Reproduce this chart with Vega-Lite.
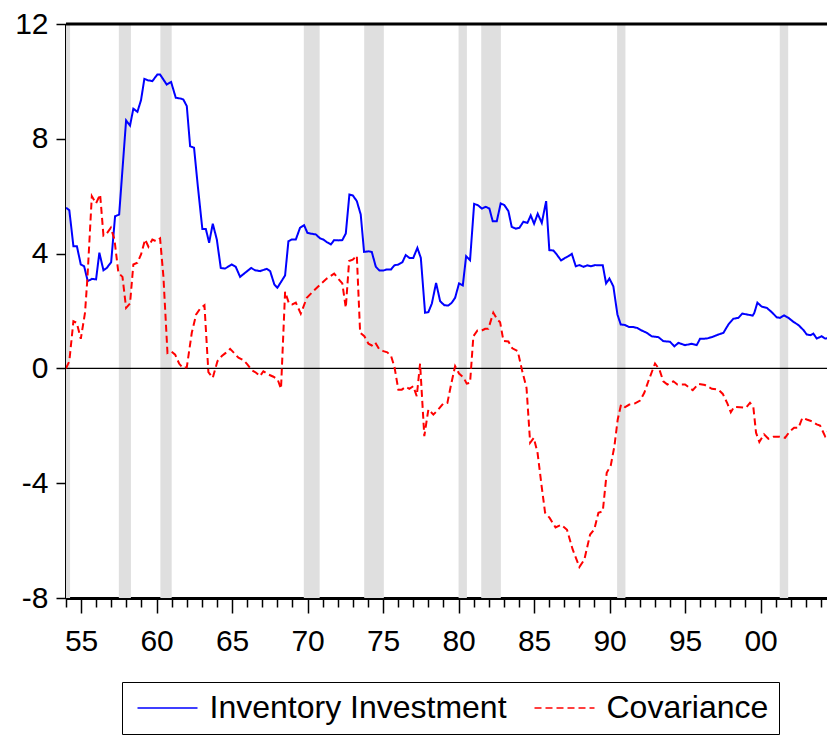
{
  "$schema": "https://vega.github.io/schema/vega-lite/v6.json",
  "width": 761,
  "height": 574,
  "autosize": {"type": "none"},
  "padding": {"left": 66, "top": 24, "right": 0, "bottom": 137},
  "background": "white",
  "config": {
    "view": {"stroke": null},
    "font": "Liberation Sans",
    "axis": {"title": null, "grid": false, "labelColor": "black", "domainColor": "black", "tickColor": "black", "labelFont": "Liberation Sans"}
  },
  "datasets": {
    "rec": [
      {"start": 1954.0, "end": 1954.27},
      {"start": 1957.5, "end": 1958.3},
      {"start": 1960.25, "end": 1961.0},
      {"start": 1969.75, "end": 1970.8},
      {"start": 1973.75, "end": 1975.05},
      {"start": 1980.0, "end": 1980.55},
      {"start": 1981.5, "end": 1982.8},
      {"start": 1990.5, "end": 1991.05},
      {"start": 2001.27, "end": 2001.83}
    ],
    "series": [
      {"s":"Inventory Investment","t":1954.0,"v":5.6},
      {"s":"Inventory Investment","t":1954.22,"v":5.51},
      {"s":"Inventory Investment","t":1954.49,"v":4.26},
      {"s":"Inventory Investment","t":1954.72,"v":4.26},
      {"s":"Inventory Investment","t":1954.98,"v":3.62},
      {"s":"Inventory Investment","t":1955.2,"v":3.56},
      {"s":"Inventory Investment","t":1955.44,"v":3.04},
      {"s":"Inventory Investment","t":1955.71,"v":3.12},
      {"s":"Inventory Investment","t":1955.99,"v":3.1},
      {"s":"Inventory Investment","t":1956.21,"v":4.03},
      {"s":"Inventory Investment","t":1956.48,"v":3.42},
      {"s":"Inventory Investment","t":1956.7,"v":3.5},
      {"s":"Inventory Investment","t":1956.99,"v":3.7},
      {"s":"Inventory Investment","t":1957.25,"v":5.3},
      {"s":"Inventory Investment","t":1957.52,"v":5.36},
      {"s":"Inventory Investment","t":1957.98,"v":8.64},
      {"s":"Inventory Investment","t":1958.24,"v":8.46},
      {"s":"Inventory Investment","t":1958.46,"v":9.05},
      {"s":"Inventory Investment","t":1958.73,"v":8.94},
      {"s":"Inventory Investment","t":1958.97,"v":9.35},
      {"s":"Inventory Investment","t":1959.19,"v":10.09},
      {"s":"Inventory Investment","t":1959.42,"v":10.04},
      {"s":"Inventory Investment","t":1959.72,"v":10.01},
      {"s":"Inventory Investment","t":1960.05,"v":10.24},
      {"s":"Inventory Investment","t":1960.23,"v":10.24},
      {"s":"Inventory Investment","t":1960.67,"v":9.89},
      {"s":"Inventory Investment","t":1960.96,"v":9.98},
      {"s":"Inventory Investment","t":1961.27,"v":9.43},
      {"s":"Inventory Investment","t":1961.6,"v":9.4},
      {"s":"Inventory Investment","t":1961.77,"v":9.37},
      {"s":"Inventory Investment","t":1962.0,"v":9.14},
      {"s":"Inventory Investment","t":1962.22,"v":7.74},
      {"s":"Inventory Investment","t":1962.48,"v":7.69},
      {"s":"Inventory Investment","t":1962.73,"v":6.35},
      {"s":"Inventory Investment","t":1963.03,"v":4.86},
      {"s":"Inventory Investment","t":1963.26,"v":4.86},
      {"s":"Inventory Investment","t":1963.48,"v":4.38},
      {"s":"Inventory Investment","t":1963.72,"v":5.04},
      {"s":"Inventory Investment","t":1963.99,"v":4.49},
      {"s":"Inventory Investment","t":1964.25,"v":3.5},
      {"s":"Inventory Investment","t":1964.54,"v":3.48},
      {"s":"Inventory Investment","t":1964.98,"v":3.62},
      {"s":"Inventory Investment","t":1965.24,"v":3.54},
      {"s":"Inventory Investment","t":1965.53,"v":3.19},
      {"s":"Inventory Investment","t":1965.86,"v":3.33},
      {"s":"Inventory Investment","t":1966.26,"v":3.5},
      {"s":"Inventory Investment","t":1966.52,"v":3.42},
      {"s":"Inventory Investment","t":1966.85,"v":3.39},
      {"s":"Inventory Investment","t":1967.3,"v":3.47},
      {"s":"Inventory Investment","t":1967.52,"v":3.39},
      {"s":"Inventory Investment","t":1967.8,"v":2.92},
      {"s":"Inventory Investment","t":1968.0,"v":2.81},
      {"s":"Inventory Investment","t":1968.51,"v":3.24},
      {"s":"Inventory Investment","t":1968.73,"v":4.43},
      {"s":"Inventory Investment","t":1968.95,"v":4.49},
      {"s":"Inventory Investment","t":1969.22,"v":4.49},
      {"s":"Inventory Investment","t":1969.5,"v":4.9},
      {"s":"Inventory Investment","t":1969.77,"v":4.99},
      {"s":"Inventory Investment","t":1969.99,"v":4.72},
      {"s":"Inventory Investment","t":1970.28,"v":4.69},
      {"s":"Inventory Investment","t":1970.54,"v":4.67},
      {"s":"Inventory Investment","t":1970.83,"v":4.53},
      {"s":"Inventory Investment","t":1971.05,"v":4.49},
      {"s":"Inventory Investment","t":1971.27,"v":4.4},
      {"s":"Inventory Investment","t":1971.54,"v":4.32},
      {"s":"Inventory Investment","t":1971.76,"v":4.47},
      {"s":"Inventory Investment","t":1972.04,"v":4.46},
      {"s":"Inventory Investment","t":1972.3,"v":4.47},
      {"s":"Inventory Investment","t":1972.53,"v":4.7},
      {"s":"Inventory Investment","t":1972.77,"v":6.06},
      {"s":"Inventory Investment","t":1972.99,"v":6.03},
      {"s":"Inventory Investment","t":1973.26,"v":5.83},
      {"s":"Inventory Investment","t":1973.52,"v":5.36},
      {"s":"Inventory Investment","t":1973.74,"v":4.06},
      {"s":"Inventory Investment","t":1974.03,"v":4.08},
      {"s":"Inventory Investment","t":1974.25,"v":4.06},
      {"s":"Inventory Investment","t":1974.52,"v":3.54},
      {"s":"Inventory Investment","t":1974.76,"v":3.41},
      {"s":"Inventory Investment","t":1975.02,"v":3.41},
      {"s":"Inventory Investment","t":1975.25,"v":3.45},
      {"s":"Inventory Investment","t":1975.53,"v":3.45},
      {"s":"Inventory Investment","t":1975.75,"v":3.59},
      {"s":"Inventory Investment","t":1976.01,"v":3.62},
      {"s":"Inventory Investment","t":1976.28,"v":3.7},
      {"s":"Inventory Investment","t":1976.5,"v":3.95},
      {"s":"Inventory Investment","t":1976.74,"v":3.85},
      {"s":"Inventory Investment","t":1977.0,"v":3.85},
      {"s":"Inventory Investment","t":1977.27,"v":4.2},
      {"s":"Inventory Investment","t":1977.5,"v":3.85},
      {"s":"Inventory Investment","t":1977.78,"v":1.94},
      {"s":"Inventory Investment","t":1978.0,"v":1.96},
      {"s":"Inventory Investment","t":1978.23,"v":2.26},
      {"s":"Inventory Investment","t":1978.51,"v":2.98},
      {"s":"Inventory Investment","t":1978.78,"v":2.34},
      {"s":"Inventory Investment","t":1979.06,"v":2.2},
      {"s":"Inventory Investment","t":1979.32,"v":2.19},
      {"s":"Inventory Investment","t":1979.55,"v":2.29},
      {"s":"Inventory Investment","t":1979.77,"v":2.46},
      {"s":"Inventory Investment","t":1980.03,"v":2.96},
      {"s":"Inventory Investment","t":1980.28,"v":2.89},
      {"s":"Inventory Investment","t":1980.5,"v":3.91},
      {"s":"Inventory Investment","t":1980.76,"v":3.77},
      {"s":"Inventory Investment","t":1981.03,"v":5.73},
      {"s":"Inventory Investment","t":1981.27,"v":5.69},
      {"s":"Inventory Investment","t":1981.54,"v":5.57},
      {"s":"Inventory Investment","t":1981.8,"v":5.63},
      {"s":"Inventory Investment","t":1982.04,"v":5.57},
      {"s":"Inventory Investment","t":1982.26,"v":5.13},
      {"s":"Inventory Investment","t":1982.53,"v":5.13},
      {"s":"Inventory Investment","t":1982.79,"v":5.75},
      {"s":"Inventory Investment","t":1983.03,"v":5.69},
      {"s":"Inventory Investment","t":1983.3,"v":5.48},
      {"s":"Inventory Investment","t":1983.52,"v":4.93},
      {"s":"Inventory Investment","t":1983.79,"v":4.87},
      {"s":"Inventory Investment","t":1984.03,"v":4.9},
      {"s":"Inventory Investment","t":1984.29,"v":5.11},
      {"s":"Inventory Investment","t":1984.56,"v":5.07},
      {"s":"Inventory Investment","t":1984.78,"v":5.33},
      {"s":"Inventory Investment","t":1985.0,"v":5.04},
      {"s":"Inventory Investment","t":1985.24,"v":5.39},
      {"s":"Inventory Investment","t":1985.51,"v":5.07},
      {"s":"Inventory Investment","t":1985.8,"v":5.83},
      {"s":"Inventory Investment","t":1986.01,"v":4.12},
      {"s":"Inventory Investment","t":1986.28,"v":4.11},
      {"s":"Inventory Investment","t":1986.5,"v":3.97},
      {"s":"Inventory Investment","t":1986.79,"v":3.76},
      {"s":"Inventory Investment","t":1987.05,"v":3.85},
      {"s":"Inventory Investment","t":1987.27,"v":3.91},
      {"s":"Inventory Investment","t":1987.5,"v":3.99},
      {"s":"Inventory Investment","t":1987.76,"v":3.56},
      {"s":"Inventory Investment","t":1988.0,"v":3.6},
      {"s":"Inventory Investment","t":1988.27,"v":3.54},
      {"s":"Inventory Investment","t":1988.53,"v":3.59},
      {"s":"Inventory Investment","t":1988.77,"v":3.56},
      {"s":"Inventory Investment","t":1989.04,"v":3.6},
      {"s":"Inventory Investment","t":1989.3,"v":3.59},
      {"s":"Inventory Investment","t":1989.55,"v":3.59},
      {"s":"Inventory Investment","t":1989.77,"v":2.96},
      {"s":"Inventory Investment","t":1989.99,"v":3.13},
      {"s":"Inventory Investment","t":1990.25,"v":2.86},
      {"s":"Inventory Investment","t":1990.52,"v":1.88},
      {"s":"Inventory Investment","t":1990.74,"v":1.53},
      {"s":"Inventory Investment","t":1991.03,"v":1.51},
      {"s":"Inventory Investment","t":1991.29,"v":1.44},
      {"s":"Inventory Investment","t":1991.58,"v":1.44},
      {"s":"Inventory Investment","t":1991.84,"v":1.41},
      {"s":"Inventory Investment","t":1992.13,"v":1.32},
      {"s":"Inventory Investment","t":1992.46,"v":1.24},
      {"s":"Inventory Investment","t":1992.79,"v":1.12},
      {"s":"Inventory Investment","t":1993.23,"v":1.09},
      {"s":"Inventory Investment","t":1993.56,"v":0.95},
      {"s":"Inventory Investment","t":1994.0,"v":0.93},
      {"s":"Inventory Investment","t":1994.29,"v":0.77},
      {"s":"Inventory Investment","t":1994.56,"v":0.89},
      {"s":"Inventory Investment","t":1995.0,"v":0.81},
      {"s":"Inventory Investment","t":1995.44,"v":0.86},
      {"s":"Inventory Investment","t":1995.77,"v":0.81},
      {"s":"Inventory Investment","t":1995.99,"v":1.03},
      {"s":"Inventory Investment","t":1996.44,"v":1.04},
      {"s":"Inventory Investment","t":1996.77,"v":1.09},
      {"s":"Inventory Investment","t":1997.21,"v":1.18},
      {"s":"Inventory Investment","t":1997.54,"v":1.24},
      {"s":"Inventory Investment","t":1997.87,"v":1.53},
      {"s":"Inventory Investment","t":1998.2,"v":1.73},
      {"s":"Inventory Investment","t":1998.53,"v":1.76},
      {"s":"Inventory Investment","t":1998.79,"v":1.91},
      {"s":"Inventory Investment","t":1999.09,"v":1.88},
      {"s":"Inventory Investment","t":1999.48,"v":1.84},
      {"s":"Inventory Investment","t":1999.59,"v":1.94},
      {"s":"Inventory Investment","t":1999.79,"v":2.29},
      {"s":"Inventory Investment","t":2000.08,"v":2.15},
      {"s":"Inventory Investment","t":2000.41,"v":2.11},
      {"s":"Inventory Investment","t":2000.74,"v":1.96},
      {"s":"Inventory Investment","t":2001.07,"v":1.78},
      {"s":"Inventory Investment","t":2001.29,"v":1.76},
      {"s":"Inventory Investment","t":2001.56,"v":1.85},
      {"s":"Inventory Investment","t":2001.85,"v":1.76},
      {"s":"Inventory Investment","t":2002.18,"v":1.62},
      {"s":"Inventory Investment","t":2002.51,"v":1.51},
      {"s":"Inventory Investment","t":2002.85,"v":1.33},
      {"s":"Inventory Investment","t":2003.06,"v":1.18},
      {"s":"Inventory Investment","t":2003.32,"v":1.16},
      {"s":"Inventory Investment","t":2003.5,"v":1.21},
      {"s":"Inventory Investment","t":2003.72,"v":1.04},
      {"s":"Inventory Investment","t":2004.05,"v":1.12},
      {"s":"Inventory Investment","t":2004.27,"v":1.04},
      {"s":"Inventory Investment","t":2004.5,"v":1.06},
      {"s":"Covariance","t":1954.0,"v":0.0},
      {"s":"Covariance","t":1954.22,"v":0.25},
      {"s":"Covariance","t":1954.49,"v":1.64},
      {"s":"Covariance","t":1954.71,"v":1.59},
      {"s":"Covariance","t":1954.98,"v":1.03},
      {"s":"Covariance","t":1955.26,"v":1.94},
      {"s":"Covariance","t":1955.42,"v":3.16},
      {"s":"Covariance","t":1955.71,"v":6.0},
      {"s":"Covariance","t":1955.99,"v":5.75},
      {"s":"Covariance","t":1956.26,"v":6.06},
      {"s":"Covariance","t":1956.48,"v":4.63},
      {"s":"Covariance","t":1956.7,"v":4.7},
      {"s":"Covariance","t":1956.97,"v":4.9},
      {"s":"Covariance","t":1957.21,"v":4.49},
      {"s":"Covariance","t":1957.47,"v":3.33},
      {"s":"Covariance","t":1957.74,"v":3.19},
      {"s":"Covariance","t":1957.98,"v":2.11},
      {"s":"Covariance","t":1958.24,"v":2.26},
      {"s":"Covariance","t":1958.46,"v":3.62},
      {"s":"Covariance","t":1958.73,"v":3.68},
      {"s":"Covariance","t":1958.97,"v":3.97},
      {"s":"Covariance","t":1959.24,"v":4.49},
      {"s":"Covariance","t":1959.46,"v":4.24},
      {"s":"Covariance","t":1959.72,"v":4.49},
      {"s":"Covariance","t":1959.97,"v":4.43},
      {"s":"Covariance","t":1960.23,"v":4.53},
      {"s":"Covariance","t":1960.45,"v":3.21},
      {"s":"Covariance","t":1960.72,"v":0.54},
      {"s":"Covariance","t":1960.96,"v":0.6},
      {"s":"Covariance","t":1961.23,"v":0.48},
      {"s":"Covariance","t":1961.49,"v":0.17},
      {"s":"Covariance","t":1961.73,"v":0.02},
      {"s":"Covariance","t":1962.0,"v":0.04},
      {"s":"Covariance","t":1962.33,"v":1.24},
      {"s":"Covariance","t":1962.62,"v":1.88},
      {"s":"Covariance","t":1962.88,"v":2.08},
      {"s":"Covariance","t":1963.17,"v":2.2},
      {"s":"Covariance","t":1963.43,"v":-0.13},
      {"s":"Covariance","t":1963.72,"v":-0.33},
      {"s":"Covariance","t":1964.03,"v":0.25},
      {"s":"Covariance","t":1964.32,"v":0.43},
      {"s":"Covariance","t":1964.58,"v":0.54},
      {"s":"Covariance","t":1964.87,"v":0.68},
      {"s":"Covariance","t":1965.13,"v":0.54},
      {"s":"Covariance","t":1965.42,"v":0.37},
      {"s":"Covariance","t":1965.75,"v":0.29},
      {"s":"Covariance","t":1966.01,"v":0.14},
      {"s":"Covariance","t":1966.3,"v":-0.06},
      {"s":"Covariance","t":1966.59,"v":-0.15},
      {"s":"Covariance","t":1966.85,"v":-0.27},
      {"s":"Covariance","t":1967.07,"v":-0.1},
      {"s":"Covariance","t":1967.4,"v":-0.21},
      {"s":"Covariance","t":1967.74,"v":-0.29},
      {"s":"Covariance","t":1968.02,"v":-0.39},
      {"s":"Covariance","t":1968.24,"v":-0.71},
      {"s":"Covariance","t":1968.51,"v":2.67},
      {"s":"Covariance","t":1968.77,"v":2.26},
      {"s":"Covariance","t":1968.99,"v":2.23},
      {"s":"Covariance","t":1969.22,"v":2.29},
      {"s":"Covariance","t":1969.55,"v":1.91},
      {"s":"Covariance","t":1969.95,"v":2.46},
      {"s":"Covariance","t":1970.38,"v":2.69},
      {"s":"Covariance","t":1970.83,"v":2.92},
      {"s":"Covariance","t":1971.27,"v":3.13},
      {"s":"Covariance","t":1971.76,"v":3.3},
      {"s":"Covariance","t":1972.04,"v":3.12},
      {"s":"Covariance","t":1972.3,"v":2.96},
      {"s":"Covariance","t":1972.53,"v":2.11},
      {"s":"Covariance","t":1972.75,"v":3.74},
      {"s":"Covariance","t":1972.99,"v":3.79},
      {"s":"Covariance","t":1973.26,"v":3.93},
      {"s":"Covariance","t":1973.48,"v":1.24},
      {"s":"Covariance","t":1973.76,"v":1.12},
      {"s":"Covariance","t":1974.03,"v":0.86},
      {"s":"Covariance","t":1974.25,"v":0.8},
      {"s":"Covariance","t":1974.47,"v":0.91},
      {"s":"Covariance","t":1974.73,"v":0.68},
      {"s":"Covariance","t":1975.02,"v":0.6},
      {"s":"Covariance","t":1975.28,"v":0.56},
      {"s":"Covariance","t":1975.53,"v":0.43},
      {"s":"Covariance","t":1975.75,"v":0.06},
      {"s":"Covariance","t":1976.01,"v":-0.74},
      {"s":"Covariance","t":1976.24,"v":-0.74},
      {"s":"Covariance","t":1976.5,"v":-0.64},
      {"s":"Covariance","t":1976.74,"v":-0.71},
      {"s":"Covariance","t":1977.0,"v":-0.62},
      {"s":"Covariance","t":1977.23,"v":-0.97},
      {"s":"Covariance","t":1977.45,"v":0.17},
      {"s":"Covariance","t":1977.73,"v":-2.36},
      {"s":"Covariance","t":1978.0,"v":-1.43},
      {"s":"Covariance","t":1978.33,"v":-1.61},
      {"s":"Covariance","t":1978.66,"v":-1.43},
      {"s":"Covariance","t":1978.99,"v":-1.22},
      {"s":"Covariance","t":1979.26,"v":-1.2},
      {"s":"Covariance","t":1979.48,"v":-0.62},
      {"s":"Covariance","t":1979.77,"v":0.08},
      {"s":"Covariance","t":1980.03,"v":-0.18},
      {"s":"Covariance","t":1980.32,"v":-0.31},
      {"s":"Covariance","t":1980.54,"v":-0.53},
      {"s":"Covariance","t":1980.76,"v":-0.5},
      {"s":"Covariance","t":1980.98,"v":1.12},
      {"s":"Covariance","t":1981.25,"v":1.32},
      {"s":"Covariance","t":1981.54,"v":1.32},
      {"s":"Covariance","t":1981.76,"v":1.38},
      {"s":"Covariance","t":1981.97,"v":1.38},
      {"s":"Covariance","t":1982.3,"v":1.94},
      {"s":"Covariance","t":1982.57,"v":1.7},
      {"s":"Covariance","t":1982.75,"v":1.61},
      {"s":"Covariance","t":1982.97,"v":0.96},
      {"s":"Covariance","t":1983.3,"v":0.94},
      {"s":"Covariance","t":1983.56,"v":0.7},
      {"s":"Covariance","t":1983.92,"v":0.6},
      {"s":"Covariance","t":1984.2,"v":-0.06},
      {"s":"Covariance","t":1984.5,"v":-0.68},
      {"s":"Covariance","t":1984.74,"v":-2.59},
      {"s":"Covariance","t":1984.98,"v":-2.42},
      {"s":"Covariance","t":1985.23,"v":-2.94},
      {"s":"Covariance","t":1985.5,"v":-4.1},
      {"s":"Covariance","t":1985.73,"v":-5.03},
      {"s":"Covariance","t":1986.03,"v":-5.21},
      {"s":"Covariance","t":1986.42,"v":-5.54},
      {"s":"Covariance","t":1986.81,"v":-5.45},
      {"s":"Covariance","t":1987.18,"v":-5.62},
      {"s":"Covariance","t":1987.55,"v":-6.3},
      {"s":"Covariance","t":1988.0,"v":-6.92},
      {"s":"Covariance","t":1988.33,"v":-6.66},
      {"s":"Covariance","t":1988.71,"v":-5.79},
      {"s":"Covariance","t":1988.99,"v":-5.61},
      {"s":"Covariance","t":1989.26,"v":-5.03},
      {"s":"Covariance","t":1989.55,"v":-4.98},
      {"s":"Covariance","t":1989.81,"v":-3.64},
      {"s":"Covariance","t":1990.08,"v":-3.38},
      {"s":"Covariance","t":1990.32,"v":-2.71},
      {"s":"Covariance","t":1990.54,"v":-1.78},
      {"s":"Covariance","t":1990.76,"v":-1.26},
      {"s":"Covariance","t":1991.03,"v":-1.35},
      {"s":"Covariance","t":1991.31,"v":-1.26},
      {"s":"Covariance","t":1991.69,"v":-1.22},
      {"s":"Covariance","t":1992.02,"v":-1.12},
      {"s":"Covariance","t":1992.3,"v":-0.85},
      {"s":"Covariance","t":1992.6,"v":-0.4},
      {"s":"Covariance","t":1993.01,"v":0.17},
      {"s":"Covariance","t":1993.3,"v":-0.04},
      {"s":"Covariance","t":1993.56,"v":-0.45},
      {"s":"Covariance","t":1993.83,"v":-0.56},
      {"s":"Covariance","t":1994.23,"v":-0.45},
      {"s":"Covariance","t":1994.49,"v":-0.56},
      {"s":"Covariance","t":1995.0,"v":-0.56},
      {"s":"Covariance","t":1995.51,"v":-0.76},
      {"s":"Covariance","t":1995.88,"v":-0.54},
      {"s":"Covariance","t":1996.32,"v":-0.58},
      {"s":"Covariance","t":1996.77,"v":-0.71},
      {"s":"Covariance","t":1997.21,"v":-0.74},
      {"s":"Covariance","t":1997.5,"v":-0.89},
      {"s":"Covariance","t":1997.8,"v":-1.22},
      {"s":"Covariance","t":1998.03,"v":-1.53},
      {"s":"Covariance","t":1998.25,"v":-1.34},
      {"s":"Covariance","t":1998.64,"v":-1.35},
      {"s":"Covariance","t":1999.04,"v":-1.37},
      {"s":"Covariance","t":1999.3,"v":-1.2},
      {"s":"Covariance","t":1999.52,"v":-1.34},
      {"s":"Covariance","t":1999.7,"v":-2.24},
      {"s":"Covariance","t":1999.92,"v":-2.56},
      {"s":"Covariance","t":2000.23,"v":-2.3},
      {"s":"Covariance","t":2000.52,"v":-2.45},
      {"s":"Covariance","t":2000.85,"v":-2.38},
      {"s":"Covariance","t":2001.25,"v":-2.38},
      {"s":"Covariance","t":2001.62,"v":-2.42},
      {"s":"Covariance","t":2001.91,"v":-2.21},
      {"s":"Covariance","t":2002.22,"v":-2.07},
      {"s":"Covariance","t":2002.51,"v":-2.07},
      {"s":"Covariance","t":2002.77,"v":-1.72},
      {"s":"Covariance","t":2003.06,"v":-1.78},
      {"s":"Covariance","t":2003.39,"v":-1.84},
      {"s":"Covariance","t":2003.72,"v":-1.95},
      {"s":"Covariance","t":2003.94,"v":-1.99},
      {"s":"Covariance","t":2004.27,"v":-2.36},
      {"s":"Covariance","t":2004.5,"v":-2.15}
    ]
  },
  "layer": [
    {
      "data": {"name": "rec"},
      "mark": {"type": "rect", "color": "#dfdfdf"},
      "encoding": {
        "x": {
          "field": "start", "type": "quantitative",
          "scale": {"domain": [1954, 2004.4], "nice": false, "zero": false},
          "axis": {
            "values": [1954,1955,1956,1957,1958,1959,1960,1961,1962,1963,1964,1965,1966,1967,1968,1969,1970,1971,1972,1973,1974,1975,1976,1977,1978,1979,1980,1981,1982,1983,1984,1985,1986,1987,1988,1989,1990,1991,1992,1993,1994,1995,1996,1997,1998,1999,2000,2001,2002,2003,2004],
            "labelExpr": "datum.value % 5 === 0 ? slice(toString(datum.value), 2) : ''",
            "tickSize": {"condition": {"test": "datum.value % 5 === 0", "value": 15}, "value": 9},
            "tickWidth": 1.5,
            "domainWidth": 3,
            "labelFontSize": 30,
            "labelPadding": 13,
            "labelFlush": false,
            "labelOverlap": false
          }
        },
        "x2": {"field": "end"}
      }
    },
    {
      "data": {"values": [{"z": 0}]},
      "mark": {"type": "rule", "color": "black", "strokeWidth": 1.2},
      "encoding": {
        "y": {
          "field": "z", "type": "quantitative",
          "scale": {"domain": [-8, 12], "nice": false, "zero": false},
          "axis": {
            "values": [-8, -4, 0, 4, 8, 12],
            "labelExpr": "toString(datum.value)",
            "tickSize": 10,
            "tickWidth": 1.5,
            "domainWidth": 3,
            "labelFontSize": 30,
            "labelPadding": 8
          }
        }
      }
    },
    {
      "data": {"name": "series"},
      "mark": {"type": "line", "strokeWidth": 2, "clip": true},
      "encoding": {
        "x": {
          "field": "t", "type": "quantitative",
          "scale": {"domain": [1954, 2004.4], "nice": false, "zero": false},
          "axis": {
            "values": [1954,1955,1956,1957,1958,1959,1960,1961,1962,1963,1964,1965,1966,1967,1968,1969,1970,1971,1972,1973,1974,1975,1976,1977,1978,1979,1980,1981,1982,1983,1984,1985,1986,1987,1988,1989,1990,1991,1992,1993,1994,1995,1996,1997,1998,1999,2000,2001,2002,2003,2004],
            "labelExpr": "datum.value % 5 === 0 ? slice(toString(datum.value), 2) : ''",
            "tickSize": {"condition": {"test": "datum.value % 5 === 0", "value": 15}, "value": 9},
            "tickWidth": 1.5,
            "domainWidth": 3,
            "labelFontSize": 30,
            "labelPadding": 13,
            "labelFlush": false,
            "labelOverlap": false
          }
        },
        "y": {
          "field": "v", "type": "quantitative",
          "scale": {"domain": [-8, 12], "nice": false, "zero": false},
          "axis": {
            "values": [-8, -4, 0, 4, 8, 12],
            "labelExpr": "toString(datum.value)",
            "tickSize": 10,
            "tickWidth": 1.5,
            "domainWidth": 3,
            "labelFontSize": 30,
            "labelPadding": 8
          }
        },
        "color": {
          "field": "s", "type": "nominal",
          "scale": {"domain": ["Inventory Investment", "Covariance"], "range": ["#0000ff", "#ff0000"]},
          "legend": {
            "title": null,
            "orient": "none",
            "legendX": 56,
            "legendY": 658,
            "direction": "horizontal",
            "strokeColor": "black",
            "padding": 10,
            "labelFontSize": 32,
            "labelFont": "Liberation Sans",
            "labelColor": "black",
            "labelLimit": 500,
            "symbolType": "M-2,0H2",
            "symbolSize": 900,
            "symbolStrokeWidth": 1.5,
            "symbolOffset": 19.5,
            "labelOffset": 26,
            "columnPadding": 22
          }
        },
        "strokeDash": {
          "field": "s", "type": "nominal",
          "scale": {"domain": ["Inventory Investment", "Covariance"], "range": [[1, 0], [7, 4]]},
          "legend": {
            "title": null,
            "orient": "none",
            "legendX": 56,
            "legendY": 658,
            "direction": "horizontal",
            "strokeColor": "black",
            "padding": 10,
            "labelFontSize": 32,
            "labelFont": "Liberation Sans",
            "labelColor": "black",
            "labelLimit": 500,
            "symbolType": "M-2,0H2",
            "symbolSize": 900,
            "symbolStrokeWidth": 1.5,
            "symbolOffset": 19.5,
            "labelOffset": 26,
            "columnPadding": 22
          }
        }
      }
    },
    {
      "data": {"values": [{"z": 12}]},
      "mark": {"type": "rule", "color": "black", "strokeWidth": 3},
      "encoding": {"y": {"field": "z", "type": "quantitative"}}
    }
  ]
}
